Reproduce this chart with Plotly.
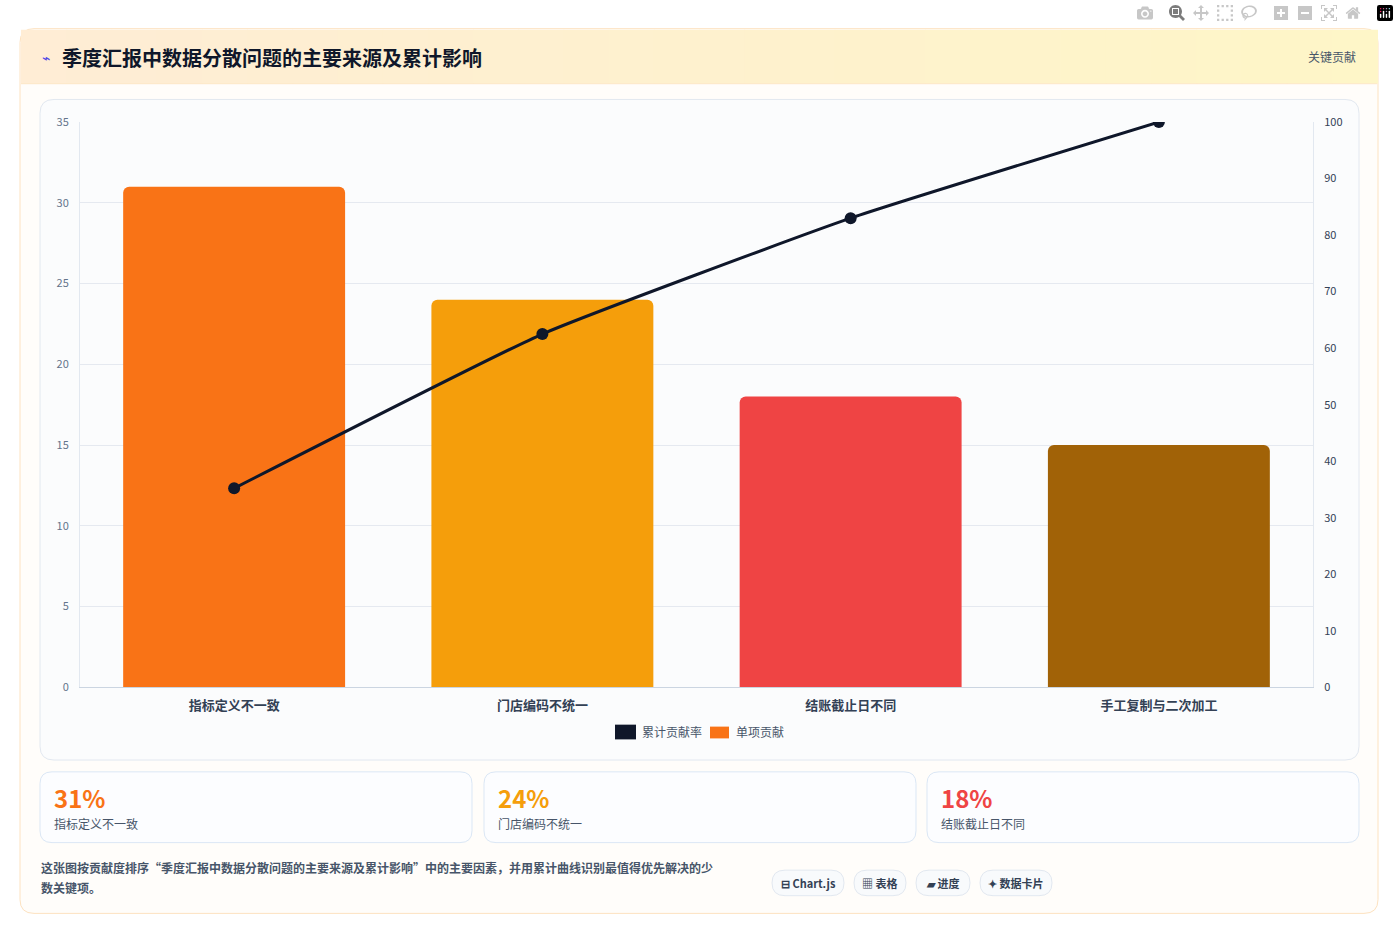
import plotly.graph_objects as go

categories = ["指标定义不一致", "门店编码不统一", "结账截止日不同", "手工复制与二次加工"]
single = [31, 24, 18, 15]
cumulative = [35.2, 62.5, 83.0, 100.0]
bar_colors = ["#f97316", "#f59e0b", "#ef4444", "#a16207"]
cards = [("31%", "指标定义不一致", "#f97316"), ("24%", "门店编码不统一", "#f59e0b"), ("18%", "结账截止日不同", "#ef4444")]
chips = ["⊟ Chart.js", "▦ 表格", "▰ 进度", "✦ 数据卡片"]

W, H = 1399, 943
def px(x): return x / W
def py(y): return 1 - y / H

FONT = "Noto Sans CJK SC"
fig = go.Figure()
fig.add_trace(go.Bar(x=categories, y=single, marker=dict(color=bar_colors, line=dict(width=0)),
                     width=0.72, name="单项贡献", yaxis="y", hoverinfo="y"))
fig.add_trace(go.Scatter(x=categories, y=cumulative, mode="lines+markers", line=dict(color="#0f172a", width=3, shape="spline", smoothing=0.4),
                         marker=dict(size=12, color="#0f172a"), name="累计贡献率", yaxis="y2"))

shapes = []
def rect(x0, y0, x1, y1, fill, line="rgba(0,0,0,0)", lw=1):
    shapes.append(dict(type="rect", xref="paper", yref="paper", x0=px(x0), x1=px(x1), y0=py(y1), y1=py(y0),
                       fillcolor=fill, line=dict(color=line, width=lw), layer="below"))
def rrect(x0, y0, x1, y1, r, fill, line="rgba(0,0,0,0)", lw=1):
    X0, X1, Y0, Y1 = px(x0), px(x1), py(y1), py(y0)
    rx, ry = r / W, r / H
    path = (f"M{X0+rx},{Y0} L{X1-rx},{Y0} Q{X1},{Y0} {X1},{Y0+ry} L{X1},{Y1-ry} Q{X1},{Y1} {X1-rx},{Y1} "
            f"L{X0+rx},{Y1} Q{X0},{Y1} {X0},{Y1-ry} L{X0},{Y0+ry} Q{X0},{Y0} {X0+rx},{Y0} Z")
    shapes.append(dict(type="path", xref="paper", yref="paper", path=path, fillcolor=fill,
                       line=dict(color=line, width=lw), layer="below"))

rrect(20, 20, 1378, 920, 14, "#fffdfa", "#fde2c0", 1)
n = 30
c0, c1 = (255, 237, 213), (254, 246, 200)
for i in range(n):
    t = i / (n - 1)
    c = tuple(int(c0[k] + (c1[k] - c0[k]) * t) for k in range(3))
    x0 = 21 + (1356 * i / n); x1 = 21 + (1356 * (i + 1) / n) + 1
    rect(x0, 21, x1, 76, f"rgb{c}")
shapes.append(dict(type="line", xref="paper", yref="paper", x0=px(21), x1=px(1377), y0=py(76), y1=py(76),
                   line=dict(color="#fde7c7", width=1), layer="below"))
rrect(40, 92, 1359, 764, 14, "#fbfcfd", "#e2e8f0", 1)
for x0 in [40, 484, 927]:
    rrect(x0, 776, x0 + 432, 848, 12, "#fcfdff", "#dbe7f5", 1)
chip_x = [(772, 844), (854, 906), (916, 970), (980, 1052)]
for (a, b) in chip_x:
    rrect(a, 876, b, 902, 13, "#f8fafc", "#e2e8f0", 1)
rect(615, 728, 636, 743, "#0f172a")
rect(710, 730, 729, 742, "#f97316")

ann = []
def text(x, y, s, size, color, xanchor="left", bold=False):
    ann.append(dict(xref="paper", yref="paper", x=px(x), y=py(y), text=f"<b>{s}</b>" if bold else s, showarrow=False,
                    xanchor=xanchor, yanchor="middle", font=dict(size=size, color=color, family=FONT)))
text(40, 49, "⌁", 14, "#4f46e5")
text(60, 49, "季度汇报中数据分散问题的主要来源及累计影响", 20, "#0f172a", bold=True)
text(1358, 48, "关键贡献", 12, "#475569", "right")
text(640, 735, "累计贡献率", 12, "#475569")
text(734, 735, "单项贡献", 12, "#475569")
for (v, lab, col), x0 in zip(cards, [40, 484, 927]):
    text(x0 + 12, 802, v, 24, col, bold=True)
    text(x0 + 12, 829, lab, 12, "#475569")
text(39, 873, "这张图按贡献度排序“季度汇报中数据分散问题的主要来源及累计影响”中的主要因素，并用累计曲线识别最值得优先解决的少", 12, "#475569", bold=True)
text(39, 894, "数关键项。", 12, "#475569", bold=True)
for s, (a, b) in zip(chips, chip_x):
    text((a + b) / 2, 889, s, 11, "#334155", "center", bold=True)

fig.update_layout(
    width=W, height=H, margin=dict(l=0, r=0, t=0, b=0),
    paper_bgcolor="#ffffff", plot_bgcolor="rgba(0,0,0,0)", showlegend=False,
    shapes=shapes, annotations=ann, bargap=0.28, barcornerradius=6,
    font=dict(family=FONT),
    xaxis=dict(domain=[px(80), px(1313)], showgrid=False, linecolor="#cbd5e1", showline=True,
               tickvals=categories, ticktext=[f"<b>{c}</b>" for c in categories],
               tickfont=dict(size=13, color="#334155", family=FONT), ticks="", ticklabelstandoff=6),
    yaxis=dict(domain=[py(690), py(115)], range=[0, 35], dtick=5, gridcolor="#e5e9f0", zeroline=False,
               tickfont=dict(size=11, color="#64748b"), ticks="outside", ticklen=8, tickcolor="rgba(0,0,0,0)", showline=True, linecolor="#e2e8f0"),
    yaxis2=dict(overlaying="y", side="right", range=[0, 100], dtick=10, showgrid=False, zeroline=False,
                tickfont=dict(size=11, color="#334155"), ticks="outside", ticklen=8, tickcolor="rgba(0,0,0,0)", showline=True, linecolor="#e2e8f0"),
)
fig.write_html("out.html", post_script="document.body.style.margin='0';document.body.style.overflow='hidden';")
